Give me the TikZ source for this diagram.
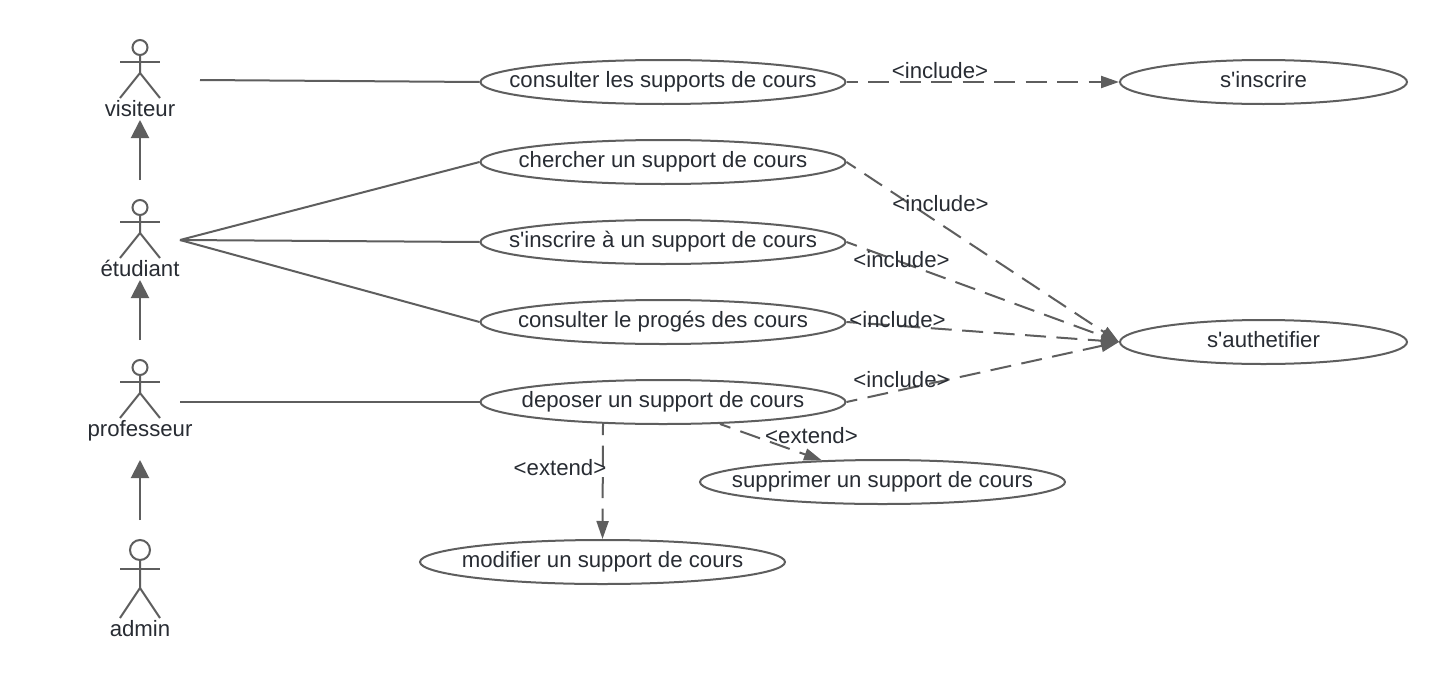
\documentclass[tikz,border=0pt]{standalone}
\usepackage{fontspec}
\newfontfamily\lsans{Liberation Sans}
\usetikzlibrary{arrows.meta,shapes.geometric}
\definecolor{ln}{HTML}{5E5E5E}
\definecolor{tx}{HTML}{282C33}
\tikzset{
  line/.style={draw=ln,line width=2pt},
  uc/.style={line,ellipse,inner xsep=-60pt,inner ysep=0pt,minimum height=44pt,text height=16pt,text depth=6pt,text=tx,font=\lsans\fontsize{22.2}{24}\selectfont},
  ucw/.style={uc,minimum width=365pt},
  ucs/.style={uc,minimum width=287pt},
  txt/.style={text=tx,inner sep=0pt,anchor=base,font=\lsans\fontsize{22.2}{24}\selectfont},
  gen/.style={line,-{Triangle[length=18pt,width=18pt]}},
  dep/.style={line,dash pattern=on 21pt off 10.5pt,dash phase=10pt,-{Triangle[length=18pt,width=12pt]}},
  plain/.style={line},
  actor/.pic={
    \draw[line] (0,-34.5) circle (7.5);
    \draw[line] (-20,-20) -- (20,-20);
    \draw[line] (0,-27) -- (0,-9) -- (-20,16);
    \draw[line] (0,-9) -- (20,16);
  },
  bigactor/.pic={
    \draw[line] (0,-33) circle (10);
    \draw[line] (-20,-14) -- (20,-14);
    \draw[line] (0,-23) -- (0,5) -- (-20,35);
    \draw[line] (0,5) -- (20,35);
  }
}
\begin{document}
\begin{tikzpicture}[x=1pt,y=-1pt]
\useasboundingbox (0,0) rectangle (1447,680);
\fill[white] (0,0) rectangle (1447,680);
% actors
\pic at (140,82) {actor};
\pic at (140,242) {actor};
\pic at (140,402) {actor};
\pic at (140,583) {bigactor};
\node[txt] (lv) at (140,116) {visiteur};
\node[txt] (le) at (140,276) {étudiant};
\node[txt] (lp) at (140,436) {professeur};
\node[txt] (la) at (140,636) {admin};
% connector ends at the actors
\coordinate (vr) at (200,80);
\coordinate (er) at (180,240);
\coordinate (pr) at (180,402);
\coordinate (vb) at (140,120);
\coordinate (et) at (140,180);
\coordinate (eb) at (140,280);
\coordinate (pt) at (140,340);
\coordinate (pb) at (140,460);
\coordinate (at) at (140,520);
\coordinate (ea) at (603,424);
\coordinate (eb2) at (720,424);
\coordinate (sut) at (822,460.5);
% use cases
\node[ucw] (c1) at (663,82) {consulter les supports de cours};
\node[ucw] (c2) at (663,162) {chercher un support de cours};
\node[ucw] (c3) at (663,242) {s'inscrire à un support de cours};
\node[ucw] (c4) at (663,322) {consulter le progés des cours};
\node[ucw] (c5) at (663,402) {deposer un support de cours};
\node[ucs] (si) at (1263.5,82) {s'inscrire};
\node[ucs] (sa) at (1263.5,342) {s'authetifier};
\node[ucw] (su) at (882.5,482) {supprimer un support de cours};
\node[ucw] (mo) at (602.5,562) {modifier un support de cours};
% associations
\draw[plain] (vr) -- (c1.west);
\draw[plain] (er) -- (c2.west);
\draw[plain] (er) -- (c3.west);
\draw[plain] (er) -- (c4.west);
\draw[plain] (pr) -- (c5.west);
% generalisations
\draw[gen] (et) -- (vb);
\draw[gen] (pt) -- (eb);
\draw[gen] (at) -- (pb);
% dependencies
\draw[dep] (c1.east) -- (si.west);
\draw[dep] (c2.east) -- (sa.west);
\draw[dep] (c3.east) -- (sa.west);
\draw[dep] (c4.east) -- (sa.west);
\draw[dep] (c5.east) -- (sa.west);
\draw[dep] (ea) -- (mo.north);
\draw[dep] (eb2) -- (sut);
% labels
\node[txt] (i1) at (940,78) {<include>};
\node[txt] (i2) at (940.5,211) {<include>};
\node[txt] (i3) at (901.5,267) {<include>};
\node[txt] (i4) at (897.5,327) {<include>};
\node[txt] (i5) at (901.5,387) {<include>};
\node[txt] (e1) at (811.5,443) {<extend>};
\node[txt] (e2) at (560,475) {<extend>};
\end{tikzpicture}
\end{document}
